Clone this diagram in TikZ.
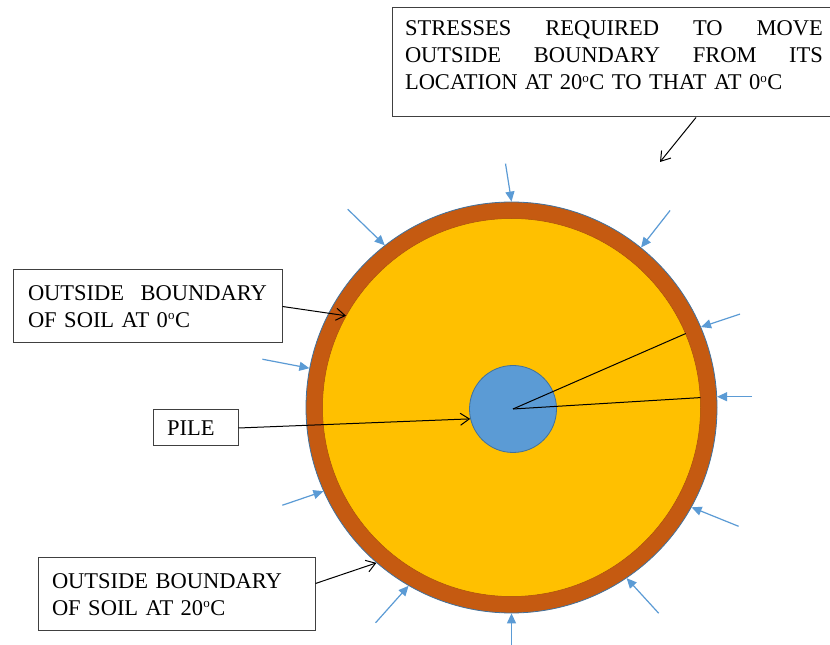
\documentclass[tikz,border=0pt]{standalone}
\usepackage{fontspec}
\setmainfont{Liberation Serif}
\usetikzlibrary{arrows.meta,calc}

\definecolor{suolo}{HTML}{C55A11}
\definecolor{gelo}{HTML}{FFC000}
\definecolor{palo}{HTML}{5B9BD5}
\definecolor{bordoblu}{HTML}{41719C}

\newcommand{\gradiC}{\textsuperscript{\fontsize{13}{13}\selectfont o}C}

\tikzset{
  etichetta/.style={draw=black!75, line width=1pt, fill=white, align=left,
    inner ysep=0pt, font=\fontsize{22.5}{27}\selectfont},
  freccia/.style={-{Straight Barb[length=9pt,width=12pt]}, line width=1pt, black},
  spinta/.style={-{Triangle[length=10pt,width=9pt]}, line width=1.2pt, palo},
}

\begin{document}
\begin{tikzpicture}[x=1pt,y=1pt]
            \fill[white] (0,0) rectangle (830,645);
            \useasboundingbox (0,0) rectangle (830,645);

            % Disegna il terreno e il palo
            \node[circle, fill=suolo, draw=bordoblu, line width=0.8pt, minimum size=411pt, inner sep=0pt] (bordo20) at (511.5,237.5) {};
            \node[circle, fill=gelo, draw=suolo!85!black, line width=0.5pt, minimum size=378pt, inner sep=0pt] (bordo0) at (511.5,237.5) {};
            \node[circle, fill=palo, draw=bordoblu, line width=0.8pt, minimum size=87pt, inner sep=0pt] (pile) at (513,236) {};

            % Raggi dal centro del palo
            \draw[line width=1pt] (pile.center) -- (bordo0.23);
            \draw[line width=1pt] (pile.center) -- (bordo0.3);

            % Sforzi sul bordo esterno
            \foreach \ang/\dx/\dy in {90/-6/38, 128/-37/36, 51/29/37, 23/39/13, 3/35/0, 169/-47/9,
                                      204/-41/-14, 331/47/-19, 240/-33/-37, 304/32/-35, 270/0/-32}
                \draw[spinta] ($(bordo20.\ang)+(\dx,\dy)$) -- (bordo20.\ang);

            % Etichette
            \node[etichetta, text width=418pt, inner xsep=13pt, minimum height=109pt, text depth=68pt] (sforzi) at (614,582.5)
                {STRESSES\hfill REQUIRED\hfill TO\hfill MOVE\\ OUTSIDE\hfill BOUNDARY\hfill FROM\hfill ITS\\ LOCATION AT 20\gradiC{} TO THAT AT 0\gradiC};
            \node[etichetta, text width=239pt, inner xsep=15pt, minimum height=73pt] (suolo0) at (147.5,338.5)
                {OUTSIDE\hfill BOUNDARY\\ OF SOIL AT 0\gradiC};
            \node[etichetta, text width=57pt, inner xsep=14pt, minimum height=36pt] (etpile) at (195.5,217) {PILE};
            \node[etichetta, text width=249pt, inner xsep=14pt, minimum height=73pt] (suolo20) at (176.5,50.5)
                {OUTSIDE BOUNDARY\\ OF SOIL AT 20\gradiC};

            % Frecce delle etichette
            \coordinate (punta) at (660,483);
            \draw[freccia] ([xshift=82pt]sforzi.south) -- (punta);
            \draw[freccia] (suolo0.east) -- (bordo0.151);
            \draw[freccia] (etpile.east) -- (pile.193);
            \draw[freccia] ([yshift=11pt]suolo20.east) -- (bordo20.229);
        \end{tikzpicture}
\end{document}
